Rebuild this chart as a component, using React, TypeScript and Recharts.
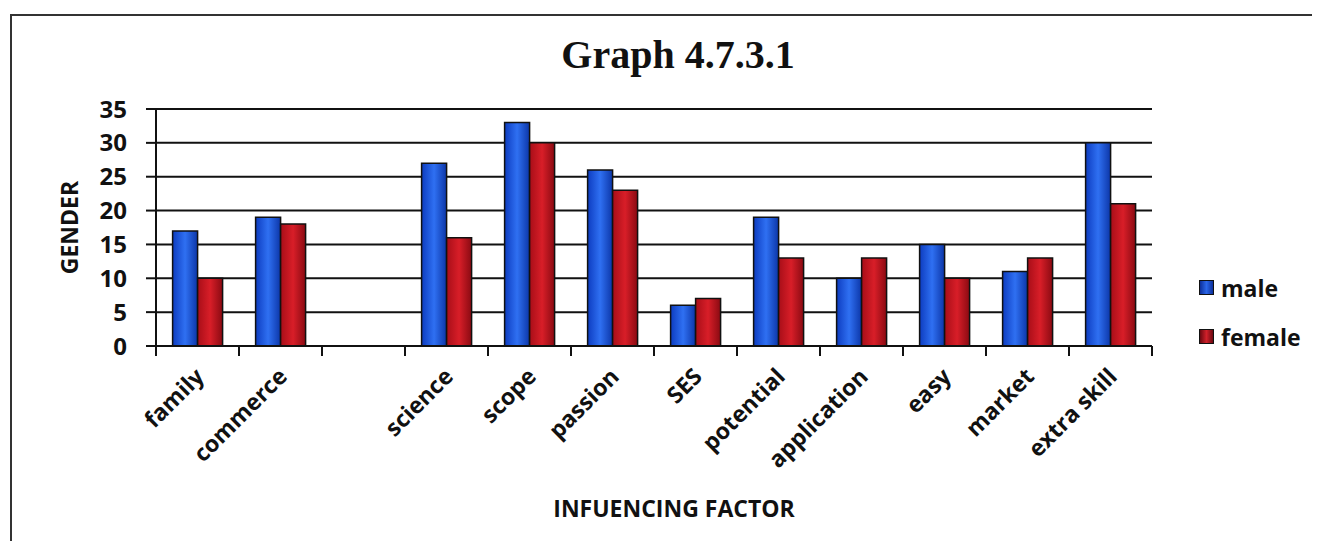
import React from 'react';
import { BarChart, Bar, XAxis, YAxis, CartesianGrid, Legend } from 'recharts';

const categories = ['family', 'commerce', '', 'science', 'scope', 'passion', 'SES', 'potential', 'application', 'easy', 'market', 'extra skill'];
const maleValues = [17, 19, null, 27, 33, 26, 6, 19, 10, 15, 11, 30];
const femaleValues = [10, 18, null, 16, 30, 23, 7, 13, 13, 10, 13, 21];
const yTicks = [0, 5, 10, 15, 20, 25, 30, 35];
const seriesNames = ['male', 'female'];

const data = categories.map((c, i) => ({ factor: c, male: maleValues[i], female: femaleValues[i] }));

const FONT = '"Open Sans", "Noto Sans", sans-serif';

const XTick = (props: any) => {
  const { x, y, payload, index, visibleTicksCount } = props;
  const half = payload && typeof payload.offset === 'number' ? payload.offset : 0;
  const isLast = index === visibleTicksCount - 1;
  return (
    <g>
      <line x1={x - half} y1={y} x2={x - half} y2={y + 10} stroke="#111" strokeWidth={2} />
      {isLast && <line x1={x + half} y1={y} x2={x + half} y2={y + 10} stroke="#111" strokeWidth={2} />}
      <g transform={`translate(${x + 8},${y + 32}) rotate(-45)`}>
        <text x={0} y={0} textAnchor="end" fontFamily={FONT} fontWeight={700} fontSize={23} fill="#111">
          {payload.value}
        </text>
      </g>
    </g>
  );
};

const LegendContent = () => (
  <div style={{ fontFamily: FONT, fontWeight: 700, fontSize: 23, color: '#111', whiteSpace: 'nowrap' }}>
    {seriesNames.map((n) => (
      <div key={n} style={{ display: 'flex', alignItems: 'center', height: 49 }}>
        <span
          style={{
            display: 'inline-block',
            flexShrink: 0,
            width: 15,
            height: 15,
            marginRight: 7,
            border: '1.5px solid #111',
            boxSizing: 'border-box',
            background: n === 'male' ? 'linear-gradient(90deg,#0d2f9a,#2a66e8,#0d2f9a)' : 'linear-gradient(90deg,#6a0810,#d0202a,#6a0810)',
          }}
        />
        <span style={{ flexShrink: 0 }}>{n}</span>
      </div>
    ))}
  </div>
);

export default function App() {
  return (
    <div style={{ position: 'relative', width: 1312, height: 533 }}>
      <div style={{ position: 'absolute', left: 2, top: 6, width: 1310, height: 527, borderTop: '2px solid #333', borderLeft: '2px solid #333', boxSizing: 'border-box' }} />
      <div style={{ position: 'absolute', left: 470, top: 23, width: 400, textAlign: 'center', fontFamily: '"Liberation Serif", "DejaVu Serif", serif', fontWeight: 700, fontSize: 40, color: '#111', whiteSpace: 'nowrap' }}>
        Graph 4.7.3.1
      </div>
      <BarChart width={1312} height={533} data={data} margin={{ top: 101, right: 38, left: 58, bottom: 24 }} barCategoryGap="20%" barGap={0}>
        <defs>
          <linearGradient id="maleGrad" x1="0" y1="0" x2="1" y2="0">
            <stop offset="0%" stopColor="#0d3cc0" />
            <stop offset="50%" stopColor="#2f70f2" />
            <stop offset="100%" stopColor="#0c36a8" />
          </linearGradient>
          <linearGradient id="femaleGrad" x1="0" y1="0" x2="1" y2="0">
            <stop offset="0%" stopColor="#a80e18" />
            <stop offset="50%" stopColor="#d81e28" />
            <stop offset="100%" stopColor="#8a0a12" />
          </linearGradient>
        </defs>
        <CartesianGrid vertical={false} stroke="#111" strokeWidth={2} />
        <XAxis dataKey="factor" type="category" height={171} axisLine={{ stroke: '#111', strokeWidth: 2 }} tickLine={false} tickSize={0} tickMargin={0} interval={0} tick={<XTick />}
          label={{ value: 'INFUENCING FACTOR', position: 'insideBottom', offset: 0, dx: 20, style: { fontFamily: FONT, fontWeight: 700, fontSize: 23, fill: '#111' } }} />
        <YAxis domain={[0, 35]} ticks={yTicks} width={90} tickSize={10} tickMargin={19} axisLine={{ stroke: '#111', strokeWidth: 2 }} tickLine={{ stroke: '#111', strokeWidth: 2 }}
          tick={{ fontFamily: FONT, fontWeight: 700, fontSize: 24, fill: '#111' }}
          label={{ value: 'GENDER', angle: -90, position: 'insideLeft', offset: 4, style: { textAnchor: 'middle', fontFamily: FONT, fontWeight: 700, fontSize: 23, fill: '#111' } }} />
        <Legend layout="vertical" verticalAlign="middle" align="right" content={<LegendContent />} wrapperStyle={{ width: 130, top: 255, paddingLeft: 47, boxSizing: 'border-box' }} />
        <Bar dataKey="male" name="male" fill="url(#maleGrad)" stroke="#111" strokeWidth={1.5} isAnimationActive={false} />
        <Bar dataKey="female" name="female" fill="url(#femaleGrad)" stroke="#111" strokeWidth={1.5} isAnimationActive={false} />
      </BarChart>
    </div>
  );
}
